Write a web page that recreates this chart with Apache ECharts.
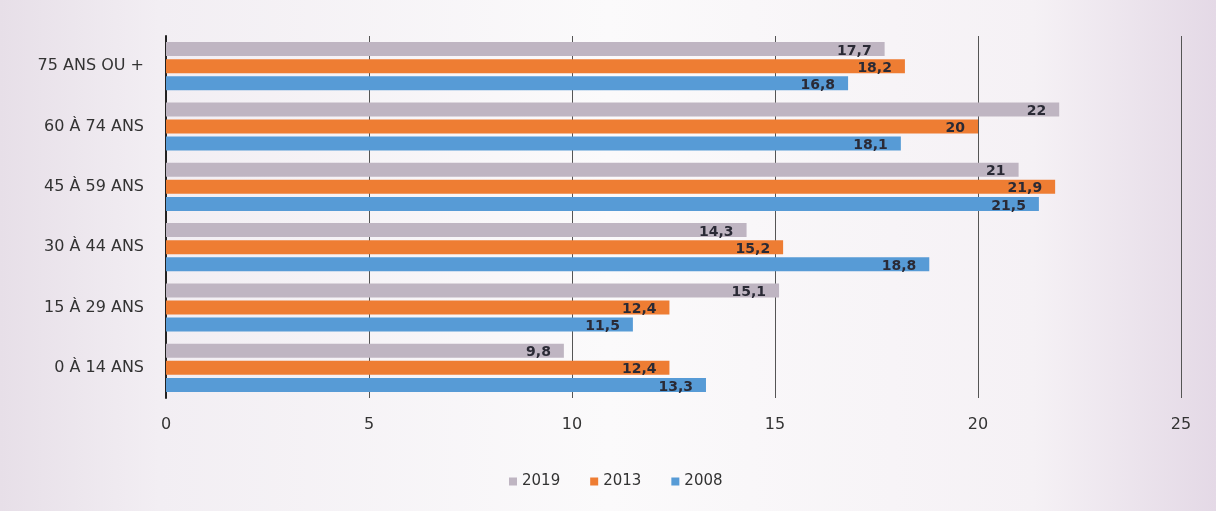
<!DOCTYPE html>
<html>
<head>
<meta charset="utf-8">
<script src="https://cdn.jsdelivr.net/npm/echarts@6/dist/echarts.min.js"></script>
<style>
  html, body { margin: 0; padding: 0; }
  #chart { width: 1216px; height: 511px; }
</style>
</head>
<body>
<div id="chart"></div>
<script>
// Age groups, listed from top to bottom of the chart
const categories = ['75 ANS OU +', '60 À 74 ANS', '45 À 59 ANS', '30 À 44 ANS', '15 À 29 ANS', '0 À 14 ANS'];
const years = ['2019', '2013', '2008'];
const values2019 = [17.7, 22, 21, 14.3, 15.1, 9.8];
const values2013 = [18.2, 20, 21.9, 15.2, 12.4, 12.4];
const values2008 = [16.8, 18.1, 21.5, 18.8, 11.5, 13.3];
const xTicks = [0, 5, 10, 15, 20, 25];

const colors = ['#bfb5c2', '#ee7d33', '#579bd6'];
const fontFamily = '"DejaVu Sans", "Open Sans", sans-serif';

// French decimal comma
const fmt = v => String(v).replace('.', ',');

const seriesData = [values2019, values2013, values2008];

const chart = echarts.init(document.getElementById('chart'));
chart.setOption({
  backgroundColor: {
    type: 'linear', x: 0, y: 0, x2: 1, y2: 0,
    colorStops: [
      { offset: 0, color: '#e7dfe8' },
      { offset: 0.13, color: '#f2eef3' },
      { offset: 0.5, color: '#fbfafb' },
      { offset: 0.85, color: '#f5f1f5' },
      { offset: 1, color: '#e4d9e6' }
    ]
  },
  textStyle: { fontFamily },
  legend: {
    data: years,
    top: 469,
    left: 504,
    itemWidth: 8,
    itemHeight: 8,
    itemGap: 30,
    icon: 'rect',
    textStyle: { color: '#333', fontSize: 15, fontFamily }
  },
  grid: { left: 166, right: 35, top: 36, bottom: 113 },
  xAxis: {
    type: 'value',
    min: xTicks[0],
    max: xTicks[xTicks.length - 1],
    interval: 5,
    axisLine: { show: false },
    axisTick: { show: false },
    splitLine: { show: true, lineStyle: { color: '#555', width: 1 } },
    axisLabel: { color: '#333', fontSize: 16, margin: 19, fontFamily }
  },
  yAxis: {
    type: 'category',
    data: categories,
    inverse: true,
    axisLine: { show: true, lineStyle: { color: '#222', width: 2 } },
    axisTick: { show: false },
    axisLabel: { color: '#333', fontSize: 16, margin: 22, fontFamily }
  },
  series: years.map((y, i) => ({
    name: y,
    type: 'bar',
    data: seriesData[i],
    barWidth: 14,
    barGap: '22%',
    barCategoryGap: '20%',
    itemStyle: { color: colors[i] },
    label: {
      show: true,
      position: 'insideRight',
      distance: 13,
      offset: [0, 2],
      color: '#2a2a35',
      fontSize: 14,
      fontWeight: 'bold',
      fontFamily,
      formatter: p => fmt(p.value)
    }
  }))
});
</script>
</body>
</html>
